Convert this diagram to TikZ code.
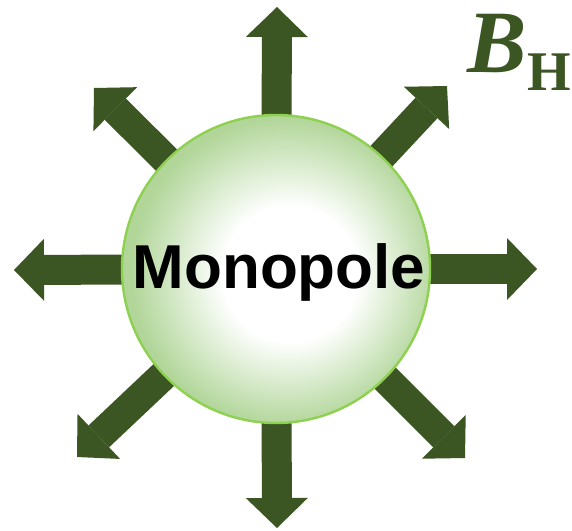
\documentclass[tikz,border=0pt]{standalone}
\usepackage{fontspec}
\setmainfont{Liberation Serif}
\setsansfont{Liberation Sans}
\usepackage{tikz}
\usetikzlibrary{
  arrows.meta,
  backgrounds
}
\definecolor{mpField}{HTML}{3B5623}
\definecolor{mpRim}{HTML}{8ED04F}
\definecolor{mpEdge}{HTML}{B2D69A}
\pgfdeclareradialshading{mpglow}{\pgfpoint{3bp}{-1bp}}{%
  color(0bp)=(white); color(11bp)=(white); color(25bp)=(mpEdge); color(50bp)=(mpEdge)}
\tikzset{
  fieldarrow/.style={
    draw=mpField, line width=30pt,
    -{Triangle[length=30pt, width=62pt, line width=0pt]}
  },
  monoball/.style={
    circle, draw=mpRim, line width=2.4pt, shading=mpglow,
    minimum size=308pt, inner sep=0pt
  },
  monolabel/.style={
    font=\sffamily\bfseries\fontsize{62}{62}\selectfont, inner sep=0pt, anchor=base
  },
  fieldlabel/.style={text=mpField, inner sep=0pt, anchor=base}
}

\begin{document}
\begin{tikzpicture}[x=1pt, y=-1pt]
  \useasboundingbox (0,0) rectangle (572,530);
  % monopole and its name
  \node[monoball] (mono) at (276,269) {};
  \node[monolabel] (name) at (279,288) {Monopole};
  % tips of the field lines
  \coordinate (tipN) at (277,7);
  \coordinate (tipS) at (277,528);
  \coordinate (tipW) at (14,270);
  \coordinate (tipE) at (537,269);
  \coordinate (tipNW) at (94,88);
  \coordinate (tipNE) at (447,86);
  \coordinate (tipSW) at (77,457);
  \coordinate (tipSE) at (465,458);
  \begin{scope}[on background layer]
    \foreach \t in {N,S,W,E,NW,NE,SW,SE}
      \draw[fieldarrow] (mono.center) -- (tip\t);
  \end{scope}
  % field symbol
  \node[fieldlabel, font=\bfseries\itshape\fontsize{89}{89}\selectfont] (bsym) at (497,72) {B};
  \node[fieldlabel, font=\bfseries\fontsize{56}{56}\selectfont] (hsym) at (549,90) {H};
\end{tikzpicture}
\end{document}
